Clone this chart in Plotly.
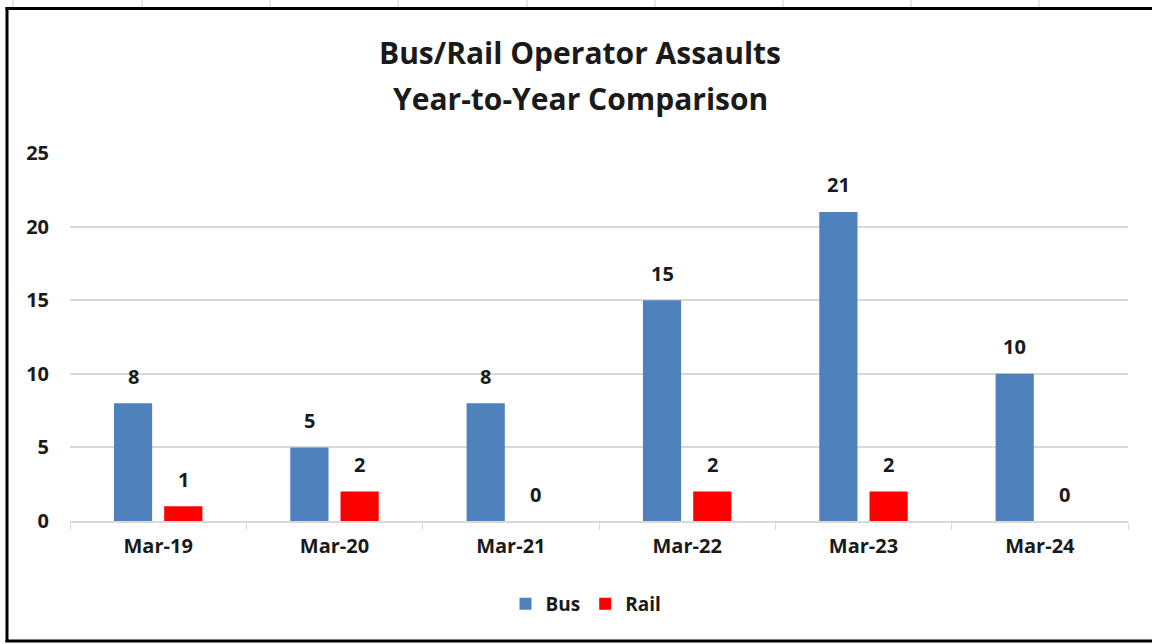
import plotly.graph_objects as go

# Chart data
months = ["Mar-19", "Mar-20", "Mar-21", "Mar-22", "Mar-23", "Mar-24"]
bus = [8, 5, 8, 15, 21, 10]
rail = [1, 2, 0, 2, 2, 0]
title_lines = ["Bus/Rail Operator Assaults", "Year-to-Year Comparison"]

FONT = "Open Sans"
INK = "#1a1a1a"
BOLD = dict(family=FONT, color=INK, weight="bold")

W, H = 1152, 644
L, R, T, B = 70, 24, 153, 123
PW, PH = W - L - R, H - T - B


def px_x(x):
    return (x - L) / PW


def px_y(y):
    return (H - B - y) / PH


fig = go.Figure()
fig.add_trace(go.Bar(x=months, y=bus, name="Bus", marker_color="#4F81BD",
                     marker_line_width=0))
fig.add_trace(go.Bar(x=months, y=rail, name="Rail", marker_color="#FF0000",
                     marker_line_width=0))

# data labels above each bar
for series, dx in ((bus, -25), (rail, 25)):
    for m, v in zip(months, series):
        fig.add_annotation(x=m, y=v, text=str(v), showarrow=False,
                           xshift=dx, yshift=27, yanchor="middle",
                           font=dict(size=20, **BOLD))

# two-line title
for line, ypx in zip(title_lines, (52, 99)):
    fig.add_annotation(text=line, xref="paper", yref="paper",
                       x=px_x(580), y=px_y(ypx),
                       xanchor="center", yanchor="middle", showarrow=False,
                       font=dict(size=30, **BOLD))

fig.update_layout(
    width=W, height=H,
    margin=dict(l=L, r=R, t=T, b=B),
    paper_bgcolor="white", plot_bgcolor="white",
    font=dict(family=FONT, color=INK),
    barmode="group", bargap=0.43, bargroupgap=0.24,
    legend=dict(
        orientation="h", x=px_x(586), xanchor="center",
        y=px_y(604), yanchor="middle",
        font=dict(size=19, **BOLD), itemwidth=30, traceorder="normal",
    ),
    showlegend=True,
)
fig.update_xaxes(
    showline=True, linecolor="#d9d9d9", linewidth=1.5,
    ticks="outside", tickson="boundaries", tickcolor="#d9d9d9", ticklen=7,
    tickfont=dict(size=20, **BOLD), ticklabelstandoff=6,
)
fig.update_yaxes(
    range=[0, 25], dtick=5, showgrid=True, gridcolor="#d9d9d9", gridwidth=1.5,
    zeroline=False, tickfont=dict(size=20, **BOLD), ticklabelstandoff=20,
)

# spreadsheet cell lines peeking out above the chart
for cx in (13, 142, 270, 398, 527, 655, 783, 911, 1039):
    fig.add_shape(type="line", xref="paper", yref="paper",
                  x0=px_x(cx), x1=px_x(cx), y0=px_y(0), y1=px_y(7),
                  line=dict(color="#d0d0d0", width=1), layer="below")

# chart frame: top, left and bottom edges (right side runs off the picture)
frame = [((5.5, 8.5), (W, 8.5)), ((7, 7), (7, 642)), ((5.5, 641), (W, 641))]
for (xa, ya), (xb, yb) in frame:
    fig.add_shape(type="line", xref="paper", yref="paper",
                  x0=px_x(xa), y0=px_y(ya), x1=px_x(xb), y1=px_y(yb),
                  line=dict(color="black", width=3), layer="below")

fig.write_html(
    "out.html",
    config={"displayModeBar": False},
    post_script="document.body.style.margin='0';document.body.style.overflow='hidden';",
)
